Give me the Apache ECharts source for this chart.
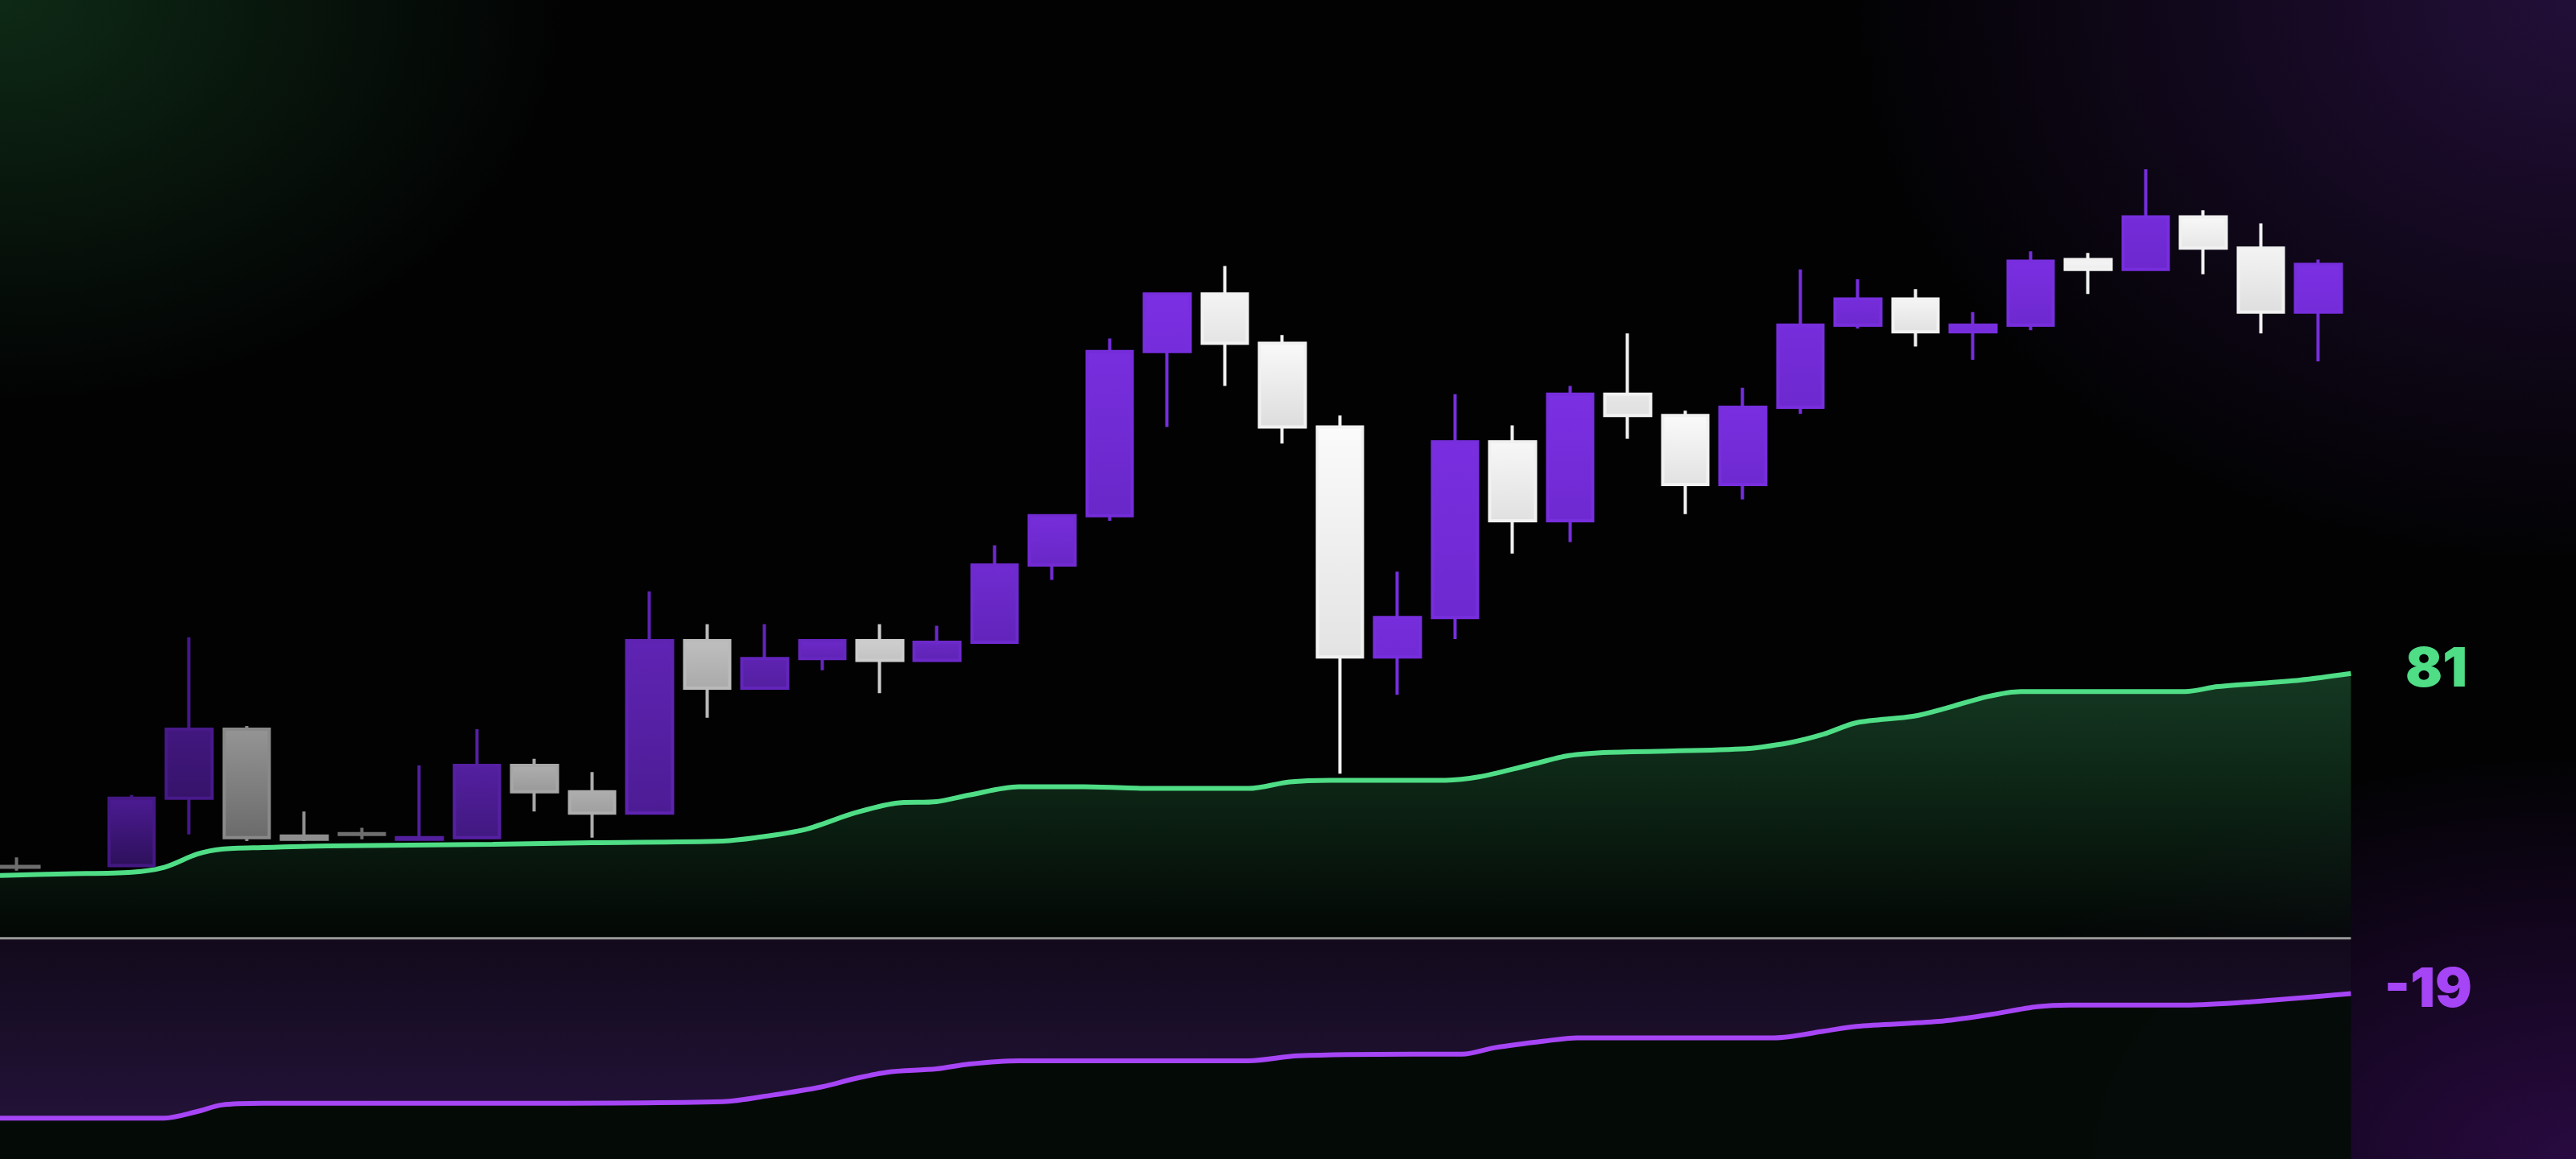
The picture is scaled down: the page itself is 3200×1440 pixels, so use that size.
<!DOCTYPE html>
<html><head><meta charset="utf-8">
<script src="https://cdn.jsdelivr.net/npm/echarts@6/dist/echarts.min.js"></script>
<style>
html,body{margin:0;padding:0;width:3200px;height:1440px;overflow:hidden;
background:
radial-gradient(ellipse 700px 500px at 0px 0px, rgba(18,55,28,0.75), rgba(0,0,0,0) 100%),
radial-gradient(ellipse 900px 700px at 3200px 0px, rgba(38,16,62,0.9), rgba(0,0,0,0) 100%),
radial-gradient(ellipse 800px 500px at 3200px 1440px, rgba(50,12,80,0.8), rgba(0,0,0,0) 100%),
#020203;}
#c{width:3200px;height:1440px;}
</style></head><body><div id="c"></div>
<script>
// candle values: [open, close, low, high] ; null = no candle
const categories = Array.from({length:41},(_,i)=>String(i+1));
const candles = [
 [43,43.5,41,49], null, [44,85,44,87], [85,127,63,183], [127,61,59,129], [62,60,59,77],
 [63,63.5,60,67], [60,61,60,105], [61,105,61,127], [105,89,77,109], [89,76,61,101],
 [76,181,76,211], [181,152,134,191], [152,170,152,191], [170,181,163,181], [181,169,149,191],
 [169,180,169,190], [180,227,180,239], [227,257,218,257], [257,357,254,365], [357,392,311,393],
 [392,362,336,409], [362,311,301,367], [311,171,100,318], [171,195,148,223], [195,302,182,331],
 [302,254,234,312], [254,331,241,336], [331,318,304,368], [318,276,258,321], [276,323,267,335],
 [323,373,319,407], [373,389,371,401], [389,369,360,395], [369,373,352,381], [373,412,370,418],
 [413,407,392,417], [407,439,407,468], [439,420,404,443], [420,381,368,435], [381,410,351,413]
];
const greenX = [0,40,80,100,120,135,160,200,300,360,440,460,490,520,545,570,590,620,660,700,760,785,810,880,900,930,955,980,1060,1090,1110,1130,1165,1185,1210,1230,1330,1350,1400,1431];
const greenV = [38,39,40,43,51,54,55,56,57,58,59,61,66,76,82,83,87,92,92,91,91,95,96,96,98,105,111,113,115,119,124,131,135,140,147,150,150,153,157,161];
const purpleX = [0,100,120,135,160,300,440,470,500,520,540,570,590,620,760,790,860,890,910,940,960,1080,1110,1130,1180,1210,1240,1260,1330,1370,1431];
const purpleV = [25,25,29,33,34,34,35,39,44,49,53,55,58,60,60,63,64,64,68,72,74,74,78,81,84,88,93,94,94,96,101];
const labelTop = '81', labelBottom = '-19';

const S = 3200/1568;
const toIdx = x => (x-10)/35.03;
function mix(a,b,t){return a.map((v,k)=>Math.round(v+(b[k]-v)*t));}
function rgb(c){return 'rgb('+c.join(',')+')';}
const candleData = candles.map((c,i)=>{
  if(!c) return '-';
  const t = Math.min(1, Math.max(0,(i-2)/18));
  const up = c[1]>=c[0];
  let top,bot;
  if(up){ top = mix([78,28,150],[124,48,228],t); bot = mix([44,16,90],[108,40,205],t); }
  else { const tw=Math.min(1,Math.max(0,(i-4)/17)); top = mix([150,150,150],[252,252,252],tw); bot = mix([105,105,105],[215,215,215],tw); }
  if(i===0||i===6){ top=[110,110,110]; bot=[110,110,110]; }
  const grad = {type:'linear',x:0,y:0,x2:0,y2:1,colorStops:[{offset:0,color:rgb(top)},{offset:1,color:rgb(bot)}]};
  const bc = rgb(mix(top,bot,0.3));
  return {value:c, itemStyle:{color:grad,color0:grad,borderColor:bc,borderColor0:bc}};
});
const H1 = 571*S, H2 = 1440-H1;
const gl = 10*S, gw = 40*35.03*S;
const LW = 1431*S;
const chart = echarts.init(document.getElementById('c'));
chart.setOption({
  backgroundColor:'transparent',
  animation:false,
  grid:[{left:gl,top:0,width:gw,height:H1},{left:0,top:0,width:LW,height:H1},{left:0,top:H1,width:LW,height:H2}],
  xAxis:[
    {type:'category',data:categories,gridIndex:0,show:false,boundaryGap:false},
    {type:'value',gridIndex:1,show:false,min:toIdx(0),max:toIdx(1431)},
    {type:'value',gridIndex:2,show:false,min:toIdx(0),max:toIdx(1431)}
  ],
  yAxis:[
    {type:'value',gridIndex:0,show:false,min:0,max:571},
    {type:'value',gridIndex:1,show:false,min:0,max:571},
    {type:'value',gridIndex:2,show:false,min:0,max:135}
  ],
  series:[
    {type:'line',xAxisIndex:1,yAxisIndex:1,data:greenX.map((x,i)=>[toIdx(x),greenV[i]]),
     smooth:0.3,symbol:'none',lineStyle:{color:'#4fdd86',width:6},
     areaStyle:{origin:'start',color:{type:'linear',global:true,x:0,y:830,x2:0,y2:1165,colorStops:[{offset:0,color:'rgba(30,82,50,1)'},{offset:0.45,color:'rgba(18,52,30,1)'},{offset:1,color:'rgba(4,10,6,1)'}]}},z:1},
    {type:'candlestick',xAxisIndex:0,yAxisIndex:0,data:candleData,barWidth:57,itemStyle:{borderWidth:4},z:3,clip:false},
    {type:'line',xAxisIndex:2,yAxisIndex:2,data:purpleX.map((x,i)=>[toIdx(x),purpleV[i]]),
     smooth:0.3,symbol:'none',lineStyle:{color:'#a645f5',width:6},
     areaStyle:{origin:'end',color:{type:'linear',global:true,x:0,y:1165,x2:0,y2:1400,colorStops:[{offset:0,color:'rgba(24,10,36,1)'},{offset:1,color:'rgba(48,22,78,1)'}]}},z:2}
  ],
  graphic:[
    {type:'rect',shape:{x:0,y:H1-1,width:LW,height:3},style:{fill:'#9a9a9a'},z:10},
    {type:'rect',shape:{x:0,y:H1+2,width:LW,height:H2},style:{fill:'rgba(4,12,7,0.95)'},z:-1,silent:true},
    {type:'text',x:1483*S,y:408*S,style:{text:labelTop,fill:'#4fdd86',font:'900 68px Inter',align:'center',verticalAlign:'middle'}},
    {type:'text',x:1478*S,y:603*S,style:{text:labelBottom,fill:'#a645f5',font:'900 68px Inter',align:'center',verticalAlign:'middle'}}
  ]
});
</script></body></html>
